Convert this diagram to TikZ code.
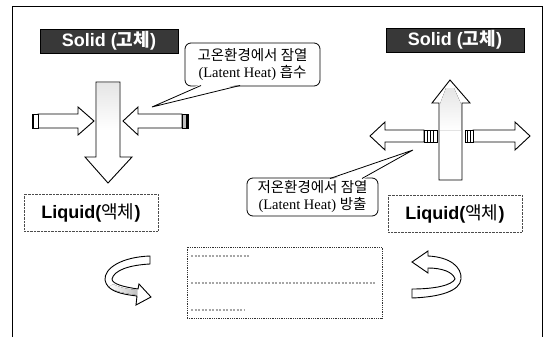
\documentclass[tikz,border=0pt]{standalone}
\usepackage{fontspec}
\setmainfont{Liberation Serif}
\newfontfamily\cjk{Noto Sans CJK KR}
\newfontfamily\headsans{Liberation Sans}
\usetikzlibrary{shadings}
\begin{document}
\begin{tikzpicture}[x=1pt,y=-1pt,
  solidbox/.style={draw=black, fill=black!78, text=white, minimum width=138pt,
    minimum height=24pt, inner sep=0pt, font=\headsans\fontsize{18}{20}\selectfont\bfseries},
  liquidbox/.style={draw=black!70, densely dotted, fill=white, minimum width=134pt,
    minimum height=37pt, inner sep=0pt, font=\headsans\fontsize{18}{20}\selectfont\bfseries},
  note/.style={draw=black, thick, rounded corners=6pt, fill=white, align=center,
    inner xsep=2pt, inner ysep=1pt, font=\fontsize{14.5}{17}\selectfont},
  bigarrow/.style={draw=black, line width=0.9pt, fill=white, line join=miter},
  outline/.style={draw=black, line width=0.9pt, line join=miter},
  stub/.style={draw=black, line width=0.8pt, fill=black!25},
  curl/.style={draw=black, line width=0.9pt, fill=white},
  faint/.style={draw=black!35, line width=1.1pt, dash pattern=on 2pt off 1.5pt}
]
\useasboundingbox (0,0) rectangle (545,337);

% frame
\draw[line width=1pt] (12,337) -- (12,7) -- (542,7) -- (542,337);

% state boxes
\node[solidbox] (solidL) at (109,41) {Solid ({\cjk 고체})};
\node[solidbox] (solidR) at (455,40) {Solid ({\cjk 고체})};
\node[liquidbox] (liqL) at (91,212.5) {Liquid({\cjk\mdseries 액체})};
\node[liquidbox] (liqR) at (455,213.5) {Liquid({\cjk\mdseries 액체})};

% left side: melting, heat flows in
\fill[white] (96,82) -- (120,82) -- (120,157) -- (132,157) -- (108,183) -- (85,157) -- (96,157) -- cycle;
\fill[top color=black!10, bottom color=white] (97,83) rectangle (119,130);
\draw[outline] (96,82) -- (120,82) -- (120,157) -- (132,157) -- (108,183) -- (85,157) -- (96,157) -- cycle;
\draw[bigarrow] (38,114) -- (78,114) -- (78,107) -- (94,121) -- (78,135) -- (78,128) -- (38,128) -- cycle;
\draw[stub, fill=white] (32,114) rectangle (38,128);
\draw[line width=1.4pt] (33,114) -- (33,128);
\draw[bigarrow] (182,114) -- (138,114) -- (138,107) -- (123,121) -- (138,135) -- (138,128) -- (182,128) -- cycle;
\draw[stub] (182,114) rectangle (188,128);
\draw[line width=1.4pt] (187,114) -- (187,128);

% right side: freezing, heat flows out
\fill[white] (439,180) -- (439,103) -- (432,103) -- (450,80) -- (470,103) -- (462,103) -- (462,180) -- cycle;
\fill[top color=black!10, bottom color=white] (446,88) -- (454,88) -- (461,104) -- (461,130) -- (440,130) -- (440,104) -- cycle;
\draw[outline] (439,180) -- (439,103) -- (432,103) -- (450,80) -- (470,103) -- (462,103) -- (462,180) -- cycle;
\draw[bigarrow] (424,130) -- (385,130) -- (385,122) -- (370,136) -- (385,150) -- (385,142) -- (424,142) -- cycle;
\draw[stub, fill=white] (424,130) rectangle (437,142);
\foreach \xs in {427,430,433} \draw[line width=0.7pt] (\xs,130) -- (\xs,142);
\draw[bigarrow] (473,130) -- (515,130) -- (515,122) -- (530,136) -- (515,150) -- (515,142) -- (473,142) -- cycle;
\draw[stub, fill=white] (465,130) rectangle (473,142);
\foreach \xs in {467,470} \draw[line width=0.7pt] (\xs,130) -- (\xs,142);

% callouts
\node[note, minimum width=135pt, minimum height=43pt] (absorb) at (252.5,64.5)
  {{\cjk 고온환경에서 잠열}\\(Latent Heat) {\cjk 흡수}};
\coordinate (absorbTip) at (152,107);
\fill[white] (201,84) -- (absorbTip) -- (240,84) -- cycle;
\draw[thick] (201,85.5) -- (absorbTip) -- (240,85.5);

\node[note, minimum width=131pt, minimum height=38pt] (release) at (312.5,197)
  {{\cjk 저온환경에서 잠열}\\(Latent Heat) {\cjk 방출}};
\coordinate (releaseTip) at (413,150);
\fill[white] (330,180) -- (releaseTip) -- (362,180) -- cycle;
\draw[thick] (330,178.5) -- (releaseTip) -- (362,178.5);

% cycle arrows
\fill[white] (150,256) .. controls (122,257) and (104,268) .. (105,280)
  .. controls (107,291) and (120,294) .. (137,296) -- (136,305) -- (151,297)
  -- (139,284) -- (138,289) .. controls (124,287) and (112,284) .. (112,279)
  .. controls (114,270) and (130,265) .. (150,264) -- cycle;
\fill[left color=white, right color=black!25] (113,284) .. controls (120,288) and (128,289) .. (137,290)
  -- (137,295) .. controls (122,293) and (112,290) .. (109,287) -- cycle;
\draw[curl, fill=none] (150,256) .. controls (122,257) and (104,268) .. (105,280)
  .. controls (107,291) and (120,294) .. (137,296) -- (136,305) -- (151,297)
  -- (139,284) -- (138,289) .. controls (124,287) and (112,284) .. (112,279)
  .. controls (114,270) and (130,265) .. (150,264) -- cycle;
\draw[curl] (412,262) -- (428,251) -- (428,256) .. controls (450,257) and (462,267) .. (461,279)
  .. controls (460,291) and (440,297) .. (412,298) -- (412,289)
  .. controls (436,289) and (452,285) .. (455,279)
  .. controls (453,272) and (442,268) .. (428,268) -- (428,273) -- cycle;

% legend box with faded lines
\node[draw=black!80, densely dotted, line width=0.8pt, minimum width=195pt, minimum height=71pt,
  inner sep=0pt] (legend) at (284.5,282.5) {};
\draw[faint] (191,256) -- (250,256);
\draw[faint] (191,283) -- (376,283);
\draw[faint] (191,310) -- (245,310);
\end{tikzpicture}
\end{document}
